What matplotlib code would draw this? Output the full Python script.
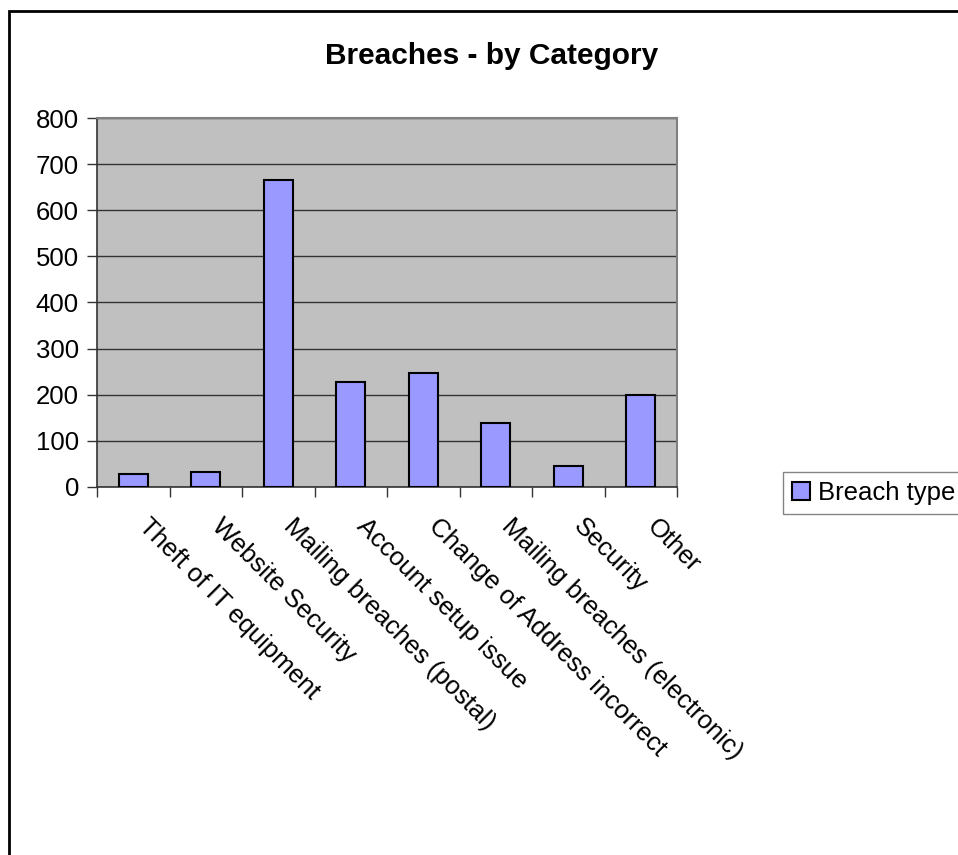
import matplotlib
matplotlib.use('Agg')
import matplotlib.pyplot as plt
import numpy as np
from matplotlib.patches import Rectangle
from matplotlib.transforms import ScaledTranslation

plt.rcParams['font.family'] = ['Liberation Sans', 'DejaVu Sans']

categories = ['Theft of IT equipment', 'Website Security', 'Mailing breaches (postal)',
              'Account setup issue', 'Change of Address incorrect',
              'Mailing breaches (electronic)', 'Security', 'Other']
counts = [28, 33, 665, 227, 247, 139, 45, 200]
yticks = [0, 100, 200, 300, 400, 500, 600, 700, 800]

W, H = 958, 855
fig = plt.figure(figsize=(W/100, H/100), dpi=100)

# outer chart border (runs off the right and bottom edges)
fig.patches.append(Rectangle((9/W, -0.05), 1.1, 1 - 11/H + 0.05, transform=fig.transFigure,
                             fill=False, edgecolor='black', linewidth=2, zorder=0))

ax = fig.add_axes([97/W, 1 - 487/H, 580/W, 369/H])
ax.set_facecolor('#C0C0C0')

x = np.arange(len(categories))
ax.bar(x, counts, width=0.4, color='#9999FF', edgecolor='black', linewidth=1.5,
       label='Breach type', zorder=3)

ax.set_xlim(-0.5, len(categories) - 0.5)
ax.set_ylim(0, 800)
ax.set_yticks(yticks)
ax.set_yticklabels([str(v) for v in yticks], fontsize=18.5)
ax.yaxis.grid(True, color='#333333', linewidth=1, zorder=1)
ax.set_axisbelow(True)

ax.set_xticks(x)
ax.set_xticklabels(categories, fontsize=18.5, rotation=-45, ha='left', va='top',
                   rotation_mode='anchor')
ax.tick_params(axis='x', which='major', length=0, pad=14)
ax.set_xticks(np.arange(-0.5, len(categories)), minor=True)
ax.tick_params(axis='x', which='minor', length=7, width=1, color='#333333', direction='out')
ax.tick_params(axis='y', length=7, width=1, color='#333333', direction='out', pad=6)

# nudge the slanted labels right and down
shift = ScaledTranslation(0.18, -0.08, fig.dpi_scale_trans)
for lbl in ax.get_xticklabels():
    lbl.set_transform(lbl.get_transform() + shift)

for side in ['top', 'right']:
    ax.spines[side].set_color('#808080')
    ax.spines[side].set_linewidth(1.5)
for side in ['left', 'bottom']:
    ax.spines[side].set_color('#333333')
    ax.spines[side].set_linewidth(1.2)

fig.text(492/W, 1 - 56/H, 'Breaches - by Category', ha='center', va='center',
         fontsize=21.5, fontweight='bold')

leg = fig.legend(loc='upper left', bbox_to_anchor=(783/W, 1 - 472/H), fontsize=18.5,
                 frameon=True, fancybox=False, edgecolor='#666666', handlelength=0.7,
                 handleheight=0.7, handletextpad=0.3, borderpad=0.35, borderaxespad=0)
leg.get_frame().set_linewidth(1)

fig.savefig('out.png', dpi=100)
